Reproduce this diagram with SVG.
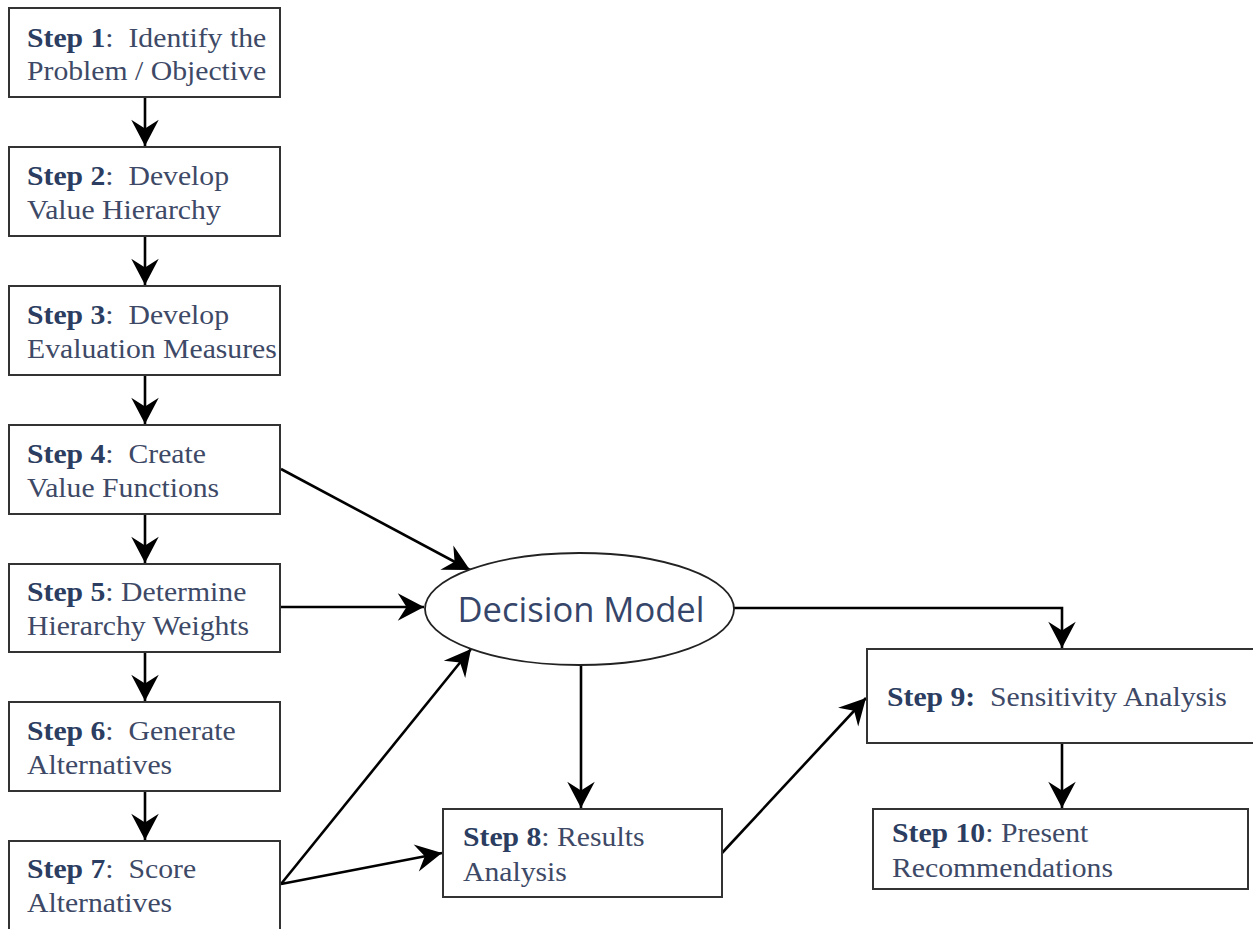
<svg xmlns="http://www.w3.org/2000/svg" width="1253" height="929" viewBox="0 0 1253 929">
<defs>
<marker id="arr" markerUnits="userSpaceOnUse" markerWidth="30" markerHeight="30" viewBox="-22 -12 24 24" refX="0" refY="0" orient="auto">
<path d="M-21,-11 L0,0 L-21,11 L-14,0 Z" fill="#000"/>
</marker>
</defs>
<style>
.box{fill:#fff;stroke:#333;stroke-width:2}
.t{font-family:"Liberation Serif","Times New Roman",serif;font-size:27px;fill:#3d4966;white-space:pre}
.b{font-weight:bold;fill:#2b3d60}
.c{fill:none;stroke:#000;stroke-width:2.6;marker-end:url(#arr)}
.dm{font-family:"Open Sans","Noto Sans",sans-serif;font-size:34px;fill:#36466a}
</style>
<rect width="1253" height="929" fill="#fff"/>
<g id="connectors">
<line class="c" x1="145" y1="97" x2="145" y2="146"/>
<line class="c" x1="145" y1="236" x2="145" y2="285"/>
<line class="c" x1="145" y1="375" x2="145" y2="424"/>
<line class="c" x1="145" y1="514" x2="145" y2="563"/>
<line class="c" x1="145" y1="652" x2="145" y2="701"/>
<line class="c" x1="145" y1="791" x2="145" y2="840"/>
<line class="c" x1="281" y1="469" x2="470" y2="570"/>
<line class="c" x1="281" y1="607" x2="424" y2="607"/>
<line class="c" x1="281" y1="884" x2="471" y2="649"/>
<line class="c" x1="281" y1="884" x2="442" y2="853"/>
<line class="c" x1="581" y1="665" x2="581" y2="808"/>
<polyline class="c" points="734,608 1062,608 1062,648"/>
<line class="c" x1="722" y1="853" x2="866" y2="698"/>
<line class="c" x1="1062" y1="743" x2="1062" y2="808"/>
</g>
<g id="step1"><rect class="box" x="9" y="8" width="271" height="89"/>
<g transform="translate(27,0) scale(1.1,1)">
<text class="t" x="0" y="47"><tspan class="b">Step 1</tspan>:  Identify the</text>
<text class="t" x="0" y="80">Problem / Objective</text></g></g>
<g id="step2"><rect class="box" x="9" y="147" width="271" height="89"/>
<g transform="translate(27,0) scale(1.1,1)">
<text class="t" x="0" y="185"><tspan class="b">Step 2</tspan>:  Develop</text>
<text class="t" x="0" y="219">Value Hierarchy</text></g></g>
<g id="step3"><rect class="box" x="9" y="286" width="271" height="89"/>
<g transform="translate(27,0) scale(1.1,1)">
<text class="t" x="0" y="324"><tspan class="b">Step 3</tspan>:  Develop</text>
<text class="t" x="0" y="358">Evaluation Measures</text></g></g>
<g id="step4"><rect class="box" x="9" y="425" width="271" height="89"/>
<g transform="translate(27,0) scale(1.1,1)">
<text class="t" x="0" y="463"><tspan class="b">Step 4</tspan>:  Create</text>
<text class="t" x="0" y="497">Value Functions</text></g></g>
<g id="step5"><rect class="box" x="9" y="564" width="271" height="88"/>
<g transform="translate(27,0) scale(1.1,1)">
<text class="t" x="0" y="601"><tspan class="b">Step 5</tspan>: Determine</text>
<text class="t" x="0" y="635">Hierarchy Weights</text></g></g>
<g id="step6"><rect class="box" x="9" y="702" width="271" height="89"/>
<g transform="translate(27,0) scale(1.1,1)">
<text class="t" x="0" y="740"><tspan class="b">Step 6</tspan>:  Generate</text>
<text class="t" x="0" y="774">Alternatives</text></g></g>
<g id="step7"><rect class="box" x="9" y="841" width="271" height="100"/>
<g transform="translate(27,0) scale(1.1,1)">
<text class="t" x="0" y="878"><tspan class="b">Step 7</tspan>:  Score</text>
<text class="t" x="0" y="912">Alternatives</text></g></g>
<g id="decision-model"><ellipse cx="579.5" cy="609" rx="154.5" ry="56" fill="#fff" stroke="#222" stroke-width="1.8"/>
<text class="dm" x="581" y="622" text-anchor="middle" textLength="247" lengthAdjust="spacingAndGlyphs">Decision Model</text></g>
<g id="step8"><rect class="box" x="443" y="809" width="279" height="88"/>
<g transform="translate(463,0) scale(1.1,1)">
<text class="t" x="0" y="846"><tspan class="b">Step 8</tspan>: Results</text>
<text class="t" x="0" y="881">Analysis</text></g></g>
<g id="step9"><rect class="box" x="867" y="649" width="400" height="94"/>
<g transform="translate(887,0) scale(1.1,1)">
<text class="t" x="0" y="706"><tspan class="b">Step 9:</tspan>  Sensitivity Analysis</text></g></g>
<g id="step10"><rect class="box" x="873" y="809" width="375" height="80"/>
<g transform="translate(892,0) scale(1.1,1)">
<text class="t" x="0" y="842"><tspan class="b">Step 10</tspan>: Present</text>
<text class="t" x="0" y="877">Recommendations</text></g></g>
</svg>
